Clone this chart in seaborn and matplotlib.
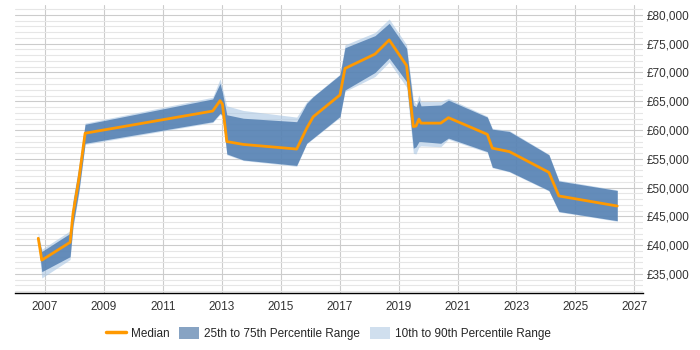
import matplotlib
matplotlib.use("Agg")
import matplotlib.pyplot as plt
import matplotlib.ticker as mticker
from matplotlib.patches import Patch
from matplotlib.lines import Line2D
import seaborn as sns
import pandas as pd

years = [2006.77, 2006.89, 2007.85, 2007.95, 2008.15, 2008.36, 2012.69, 2012.94, 2013.02,
         2013.17, 2013.73, 2015.54, 2015.88, 2016.10, 2017.01, 2017.18, 2018.20, 2018.68,
         2019.27, 2019.50, 2019.59, 2019.69, 2019.76, 2020.43, 2020.69, 2022.01, 2022.18,
         2022.76, 2024.10, 2024.44, 2026.42]
median = [41200, 37400, 40500, 45500, 51500, 59450, 63300, 65100, 64500,
          58000, 57500, 56700, 60300, 62300, 66100, 70700, 73200, 75650,
          71200, 60600, 60700, 61900, 61200, 61200, 62150, 59250, 56850,
          56250, 52650, 48550, 46800]
p25 = [40800, 35400, 38000, 43500, 49500, 57700, 61450, 62900, 62600,
       55850, 54800, 53850, 57700, 58600, 62350, 66950, 70000, 72500,
       68400, 56850, 57100, 58000, 58000, 57700, 58600, 56250, 53550,
       52800, 49500, 45850, 44250]
p75 = [41500, 38900, 42050, 47500, 53500, 61000, 65400, 68100, 66500,
       62650, 62050, 61450, 64650, 65800, 69600, 74300, 76400, 78550,
       74200, 64350, 64050, 65200, 64200, 64350, 65200, 62250, 60150,
       59750, 55700, 51150, 49500]
p10 = [40300, 34300, 37500, 43000, 49000, 57500, 61300, 62700, 62400,
       55700, 54700, 53700, 57600, 58500, 62200, 66700, 69300, 71800,
       67450, 55950, 55850, 57100, 57250, 57100, 58400, 56100, 53450,
       52700, 49400, 45750, 44150]
p90 = [42200, 39300, 42500, 48000, 54000, 61200, 65700, 68900, 67300,
       64200, 63400, 62250, 64900, 65900, 69700, 74800, 76950, 79300,
       74800, 65250, 64500, 66100, 64950, 64950, 65500, 62400, 60300,
       59900, 55800, 51300, 49600]
y_ticks = [35000, 40000, 45000, 50000, 55000, 60000, 65000, 70000, 75000, 80000]
x_ticks = [2007, 2009, 2011, 2013, 2015, 2017, 2019, 2021, 2023, 2025, 2027]

df = pd.DataFrame({"year": years, "median": median, "p25": p25, "p75": p75,
                   "p10": p10, "p90": p90})

sns.set_theme(style="white")
plt.rcParams["font.family"] = ["Liberation Sans", "DejaVu Sans"]

dark = "#4a78ad"
light = "#a9c6e3"
orange = "#ff9900"

fig = plt.figure(figsize=(7, 3.5), dpi=100)
ax = fig.add_axes([0.0214, 0.163, 0.897, 0.823])

ax.fill_between(df["year"], df["p10"], df["p90"], color=light, alpha=0.6, lw=0, zorder=2)
ax.fill_between(df["year"], df["p25"], df["p75"], color=dark, alpha=0.8, lw=0, zorder=3)
sns.lineplot(data=df, x="year", y="median", ax=ax, color=orange, lw=2, zorder=4,
             legend=False)

ax.set_xlim(2005.98, 2027.29)
ax.set_ylim(31700, 81740)
ax.set_xticks(x_ticks)
ax.set_xticklabels([str(t) for t in x_ticks])
ax.set_yticks(y_ticks)
ax.set_yticklabels(["£{:,}".format(v) for v in y_ticks])
ax.yaxis.set_minor_locator(mticker.MultipleLocator(1000))
ax.yaxis.tick_right()
ax.tick_params(axis="y", which="both", length=0, labelsize=8.5, pad=3, labelcolor="#333333")
ax.tick_params(axis="x", which="both", length=4, width=0.8, color="#cccccc",
               labelsize=8.5, labelcolor="#333333", pad=2)
ax.grid(True, which="major", axis="both", color="#cccccc", lw=0.8, zorder=0)
ax.grid(True, which="minor", axis="y", color="#e6e6e6", lw=0.8, zorder=0)
ax.set_axisbelow(True)
for s in ["top", "right", "left"]:
    ax.spines[s].set_visible(False)
ax.spines["bottom"].set_color("#000000")
ax.spines["bottom"].set_linewidth(1)
ax.set_xlabel("")
ax.set_ylabel("")

handles = [Line2D([0], [0], color=orange, lw=2.5),
           Patch(facecolor="#87a3c3", edgecolor="none"),
           Patch(facecolor="#d0dfee", edgecolor="none")]
labels = ["Median", "25th to 75th Percentile Range", "10th to 90th Percentile Range"]
fig.legend(handles, labels, loc="center", bbox_to_anchor=(0.469, 0.047), ncol=3,
           frameon=False, fontsize=8.5, handlelength=1.7, handleheight=1.2,
           columnspacing=0.85, handletextpad=0.42)

fig.savefig("out.png", dpi=100)
